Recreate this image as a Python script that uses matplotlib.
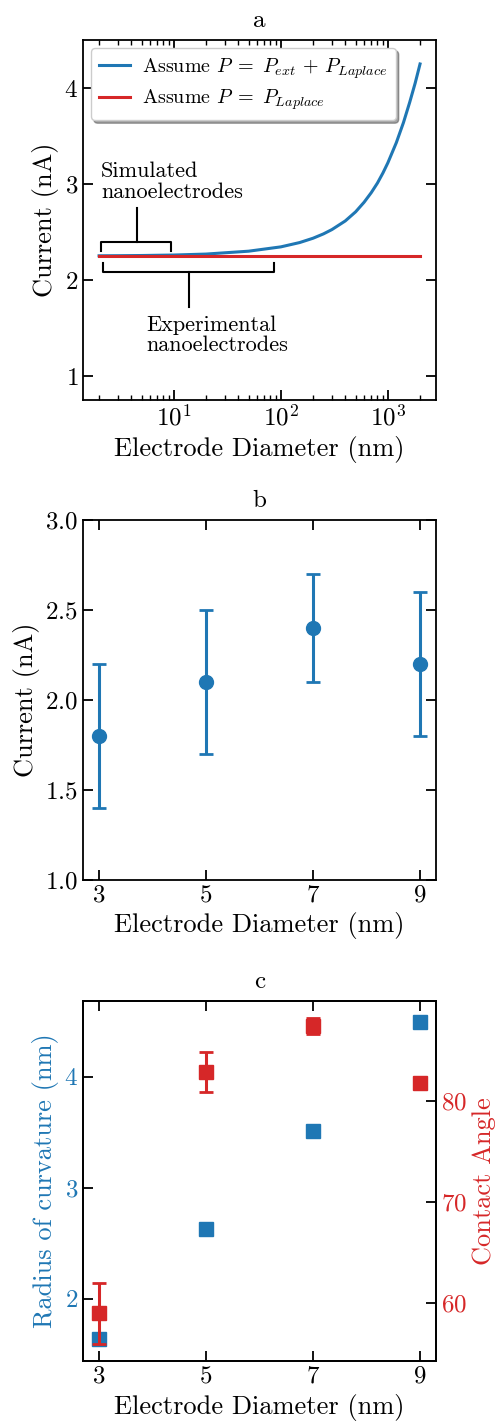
import numpy as np
import matplotlib
matplotlib.use('Agg')
import matplotlib.pyplot as plt
from matplotlib.ticker import LogLocator, NullFormatter

plt.rc('font', family='serif', size=18)
plt.rcParams['font.serif'] = ['cmr10', 'DejaVu Serif']
plt.rcParams['mathtext.fontset'] = 'cm'
plt.rcParams['axes.formatter.use_mathtext'] = True
plt.rcParams['axes.linewidth'] = 1.3

blue = '#1f77b4'
red = '#d62728'

# panel a: model current vs electrode diameter
diam_a = [2, 3, 5, 10, 20, 50, 100, 150, 200, 250, 300, 400, 500, 600, 700,
          800, 900, 1000, 1200, 1400, 1600, 1800, 2000]
cur_ext = [2.252, 2.253, 2.255, 2.26, 2.27, 2.30, 2.345, 2.39, 2.435, 2.48, 2.525,
           2.615, 2.71, 2.81, 2.91, 3.01, 3.115, 3.22, 3.43, 3.64, 3.85, 4.05, 4.25]
diam_lap = [2, 2000]
cur_lap = [2.25, 2.25]
sim_range = [2.1, 9.5]      # bracket extent, nm
exp_range = [2.2, 86]

# panel b: measured current
diam_b = [3, 5, 7, 9]
cur_b = [1.8, 2.1, 2.4, 2.2]
cur_b_err = [0.4, 0.4, 0.3, 0.4]

# panel c: radius of curvature and contact angle
diam_c = [3, 5, 7, 9]
radius = [1.64, 2.63, 3.51, 4.49]
angle = [59.0, 82.9, 87.4, 81.8]
angle_err = [3.0, 2.0, 0.8, 0.5]

LAB = 19
TIT = 18


def style(ax, right=True):
    ax.tick_params(which='both', direction='in', top=True, right=right)
    ax.tick_params(which='major', length=7, width=1.3, labelsize=18)
    ax.tick_params(which='minor', length=3.5, width=1.0)


fig = plt.figure(figsize=(4.98, 14.22), dpi=100)
ax1 = fig.add_axes([0.1667, 0.7187, 0.709, 0.2532])
ax2 = fig.add_axes([0.1667, 0.3812, 0.709, 0.2532])
ax3 = fig.add_axes([0.1667, 0.0429, 0.709, 0.2532])

# a
ax1.plot(diam_a, cur_ext, c=blue, lw=2.2,
         label=r'Assume $P \;=\; P_{ext} \,+\, P_{Laplace}$')
ax1.plot(diam_lap, cur_lap, c=red, lw=2.2, label=r'Assume $P \;=\; P_{Laplace}$')
ax1.set_xscale('log')
ax1.set_ylim([0.75, 4.5])
ax1.set_yticks([1, 2, 3, 4])
ax1.xaxis.set_minor_locator(LogLocator(base=10, subs=np.arange(2, 10)))
ax1.xaxis.set_minor_formatter(NullFormatter())
# brackets
s0, s1 = sim_range
ax1.plot([s0, s0, s1, s1], [2.305, 2.40, 2.40, 2.305], c='k', lw=1.5)
ax1.plot([4.5, 4.5], [2.40, 2.75], c='k', lw=1.5)
e0, e1 = exp_range
ax1.plot([e0, e0, e1, e1], [2.18, 2.087, 2.087, 2.18], c='k', lw=1.5)
ax1.plot([13.8, 13.8], [2.087, 1.72], c='k', lw=1.5)
ax1.text(2.08, 3.23, 'Simulated\nnanoelectrodes', ha='left', va='top', fontsize=16,
         linespacing=1.05)
ax1.text(5.5, 1.63, 'Experimental\nnanoelectrodes', ha='left', va='top', fontsize=16,
         linespacing=1.05)
ax1.legend(loc='upper left', fontsize=14.5, shadow=True, fancybox=True,
           handlelength=1.55, handletextpad=0.6, borderaxespad=0.4,
           labelspacing=0.35, framealpha=1)
ax1.set_xlabel('Electrode Diameter (nm)', fontsize=LAB)
ax1.set_ylabel('Current (nA)', fontsize=LAB)
ax1.set_title('a', fontsize=TIT, pad=9)
style(ax1)

# b
ax2.errorbar(diam_b, cur_b, yerr=cur_b_err, fmt='o', c=blue, ms=10, elinewidth=2.2,
             capsize=5, capthick=2)
ax2.set_ylim([1.0, 3.0])
ax2.set_yticks([1.0, 1.5, 2.0, 2.5, 3.0])
ax2.set_xticks(diam_b)
ax2.set_xlabel('Electrode Diameter (nm)', fontsize=LAB)
ax2.set_ylabel('Current (nA)', fontsize=LAB)
ax2.set_title('b', fontsize=TIT, pad=9)
style(ax2)

# c
ax3.plot(diam_c, radius, 's', c=blue, ms=10)
ax3.set_ylim([1.44, 4.68])
ax3.set_yticks([2, 3, 4])
ax3.set_xticks(diam_c)
ax3.set_xlabel('Electrode Diameter (nm)', fontsize=LAB)
ax3.set_ylabel('Radius of curvature (nm)', fontsize=LAB, color=blue)
ax3.set_title('c', fontsize=TIT, pad=9)
style(ax3, right=False)
ax3.tick_params(axis='y', labelcolor=blue)
ax4 = ax3.twinx()
ax4.errorbar(diam_c, angle, yerr=angle_err, fmt='s', c=red, ms=10, elinewidth=2.2,
             capsize=5, capthick=2)
ax4.set_ylim([54.3, 89.9])
ax4.set_yticks([60, 70, 80])
ax4.set_ylabel('Contact Angle', fontsize=LAB, color=red)
ax4.tick_params(axis='y', labelcolor=red, direction='in', length=7, width=1.3,
                labelsize=18)

fig.savefig('out.png', dpi=100)
